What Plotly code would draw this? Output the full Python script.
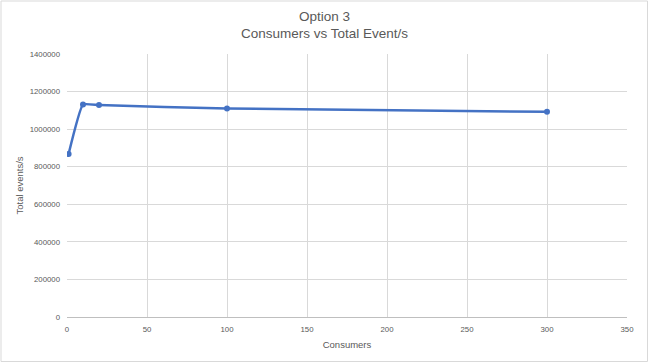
import plotly.graph_objects as go

consumers = [1, 10, 20, 100, 300]
events = [868000, 1131000, 1128000, 1110000, 1092000]
x_ticks = [0, 50, 100, 150, 200, 250, 300, 350]
y_ticks = [0, 200000, 400000, 600000, 800000, 1000000, 1200000, 1400000]
title_lines = ["Option 3", "Consumers vs Total Event/s"]

W, H = 649, 363
ml, mr, mt, mb = 67, 22, 54, 46
pw, ph = W - ml - mr, H - mt - mb

fig = go.Figure()
fig.add_trace(go.Scatter(
    x=consumers, y=events, mode="lines+markers",
    line=dict(color="#4472C4", width=2.5, shape="spline", smoothing=0.35),
    marker=dict(color="#4472C4", size=6),
    showlegend=False,
))

font_c = "#595959"
fig.update_layout(
    width=W, height=H,
    margin=dict(l=ml, r=mr, t=mt, b=mb),
    paper_bgcolor="white", plot_bgcolor="white",
    font=dict(family="Liberation Sans, Arial, sans-serif", color=font_c),
    xaxis=dict(range=[0, 350], tickvals=x_ticks, showgrid=True, gridcolor="#d9d9d9",
               gridwidth=1, zeroline=False, showline=True, linecolor="#bfbfbf",
               ticks="", tickfont=dict(size=7.8, color=font_c), automargin=False,
               ticklabelstandoff=5,
               title=dict(text="Consumers", font=dict(size=9.5, color=font_c), standoff=7)),
    yaxis=dict(range=[0, 1400000], tickvals=y_ticks, ticktext=[str(v) for v in y_ticks],
               showgrid=True, gridcolor="#d9d9d9", gridwidth=1, zeroline=False,
               showline=False, ticks="", tickfont=dict(size=7.8, color=font_c), automargin=False,
               ticklabelstandoff=6,
               title=dict(text="Total events/s", font=dict(size=9.5, color=font_c), standoff=4)),
)
for i, t in enumerate(title_lines):
    fig.add_annotation(text=t, xref="paper", yref="paper", x=0.5 - (ml - mr) / 2 / pw,
                       y=1 + (mt - (16 + 17 * i)) / ph, xanchor="center", yanchor="middle",
                       showarrow=False, font=dict(size=13.5, color=font_c))
fig.add_shape(type="rect", xref="paper", yref="paper",
              x0=-(ml - 1) / pw, x1=1 + (mr - 1.5) / pw,
              y0=-(mb - 1.5) / ph, y1=1 + (mt - 1) / ph,
              line=dict(color="#d9d9d9", width=1), fillcolor="rgba(0,0,0,0)", layer="below")
fig.write_html("out.html", config={"displayModeBar": False},
               post_script="document.body.style.margin='0';")
